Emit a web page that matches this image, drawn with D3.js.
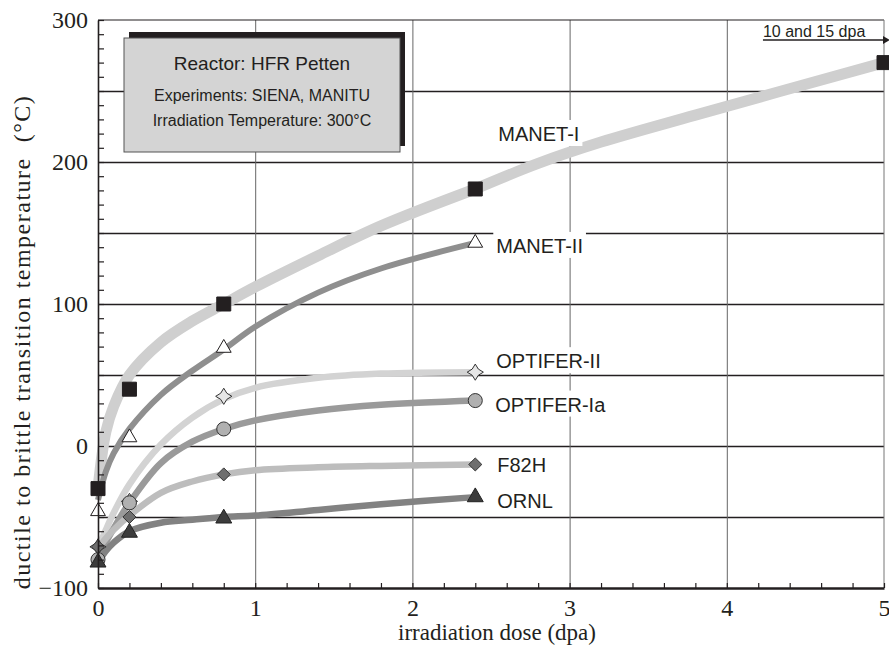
<!DOCTYPE html>
<html>
<head>
<meta charset="utf-8">
<script src="https://cdn.jsdelivr.net/npm/d3@7"></script>
<style>
  body { margin: 0; background: #fff; }
  svg { display: block; }
</style>
</head>
<body>
<svg id="chart" width="889" height="645"></svg>
<script>
// irradiation doses of the tests (dpa) and DBTT values (°C)
const testDoses = [0, 0.2, 0.8, 2.4];
const manetI = [-30, 40, 100, 181];
const manetII = [-46, 6, 69, 143];
const optiferII = [-71, -39, 35, 52];
const optiferIa = [-80, -40, 12, 32];
const f82h = [-71, -50, -20, -13];
const ornl = [-82, -61, -51, -36];
// MANET-I was also run to high dose
const manetIHighDose = [5];
const manetIHighDbtt = [270];

// trend curves
const fitDoses = [0, 0.05, 0.1, 0.2, 0.4, 0.6, 0.8, 1.0, 1.4, 1.8, 2.4];
const manetIFit = [-30, 10, 28, 50, 73, 88, 100, 112, 134, 155, 181];
const manetIIFit = [-38, -18, -5, 12, 36, 53, 68, 84, 108, 125, 143];
const optiferIIFit = [-72, -59, -47, -27, 1, 20, 33, 41, 48, 51, 52];
const optiferIaFit = [-80, -68, -58, -40, -12, 3, 12, 18, 25, 29, 32];
const f82hFit = [-72, -65, -59, -49, -33, -25, -20, -17, -15, -14, -13];
const ornlFit = [-82, -74, -68, -60, -54, -52, -50, -49, -45, -41, -36];
const manetITailDoses = [2.4, 2.8, 3.2, 3.8, 5];
const manetITail = [181, 199, 214, 233, 270];

const seriesNames = ["MANET-I", "MANET-II", "OPTIFER-II", "OPTIFER-Ia", "F82H", "ORNL"];
const xTicks = [0, 1, 2, 3, 4, 5];
const yTicks = [-100, 0, 100, 200, 300];
const xGrid = [1, 2, 3, 4];
const yGrid = [-50, 0, 50, 100, 150, 200, 250];
const boxLines = ["Reactor: HFR Petten", "Experiments: SIENA, MANITU", "Irradiation Temperature: 300°C"];

const margin = {top: 20, right: 5, bottom: 57, left: 98};
const width = 889 - margin.left - margin.right;
const height = 645 - margin.top - margin.bottom;
const serif = '"Liberation Serif", "Times New Roman", serif';
const sans = '"Liberation Sans", Arial, sans-serif';

const x = d3.scaleLinear().domain([0, 5]).range([0, width]);
const y = d3.scaleLinear().domain([-100, 300]).range([height, 0]);

const svg = d3.select("#chart");
const g = svg.append("g").attr("transform", `translate(${margin.left},${margin.top})`);

// 4-pointed star marker
const star4 = {
  draw(ctx, size) {
    const r = Math.sqrt(size) * 0.62, k = r * 0.38;
    ctx.moveTo(0, -r);
    ctx.lineTo(k, -k); ctx.lineTo(r, 0); ctx.lineTo(k, k);
    ctx.lineTo(0, r); ctx.lineTo(-k, k); ctx.lineTo(-r, 0); ctx.lineTo(-k, -k);
    ctx.closePath();
  }
};
// square standing on a corner
const diamond = {
  draw(ctx, size) {
    const r = Math.sqrt(size) / Math.SQRT2;
    ctx.moveTo(0, -r); ctx.lineTo(r, 0); ctx.lineTo(0, r); ctx.lineTo(-r, 0);
    ctx.closePath();
  }
};

const series = [
  {values: manetI, fit: manetIFit, line: "#cfcfcf", lw: 11, sym: d3.symbolSquare, size: 196, fill: "#231f20", stroke: "#231f20", dx: 23, dy: -48},
  {values: manetII, fit: manetIIFit, line: "#8f8f8f", lw: 6, sym: d3.symbolTriangle, size: 95, fill: "#fff", stroke: "#231f20", dx: 21, dy: 10},
  {values: optiferII, fit: optiferIIFit, line: "#d3d3d3", lw: 6.5, sym: star4, size: 170, fill: "#e6e6e6", stroke: "#333", dx: 21, dy: -4},
  {values: optiferIa, fit: optiferIaFit, line: "#9a9a9a", lw: 6.5, sym: d3.symbolCircle, size: 155, fill: "#b0b0b0", stroke: "#333", dx: 20, dy: 11},
  {values: f82h, fit: f82hFit, line: "#bdbdbd", lw: 6.5, sym: diamond, size: 85, fill: "#6e6e6e", stroke: "#333", dx: 22, dy: 8},
  {values: ornl, fit: ornlFit, line: "#828282", lw: 6.5, sym: d3.symbolTriangle, size: 110, fill: "#3c3c3c", stroke: "#222", dx: 22, dy: 11}
];

// gridlines
g.append("g")
  .call(d3.axisLeft(y).tickValues(yGrid).tickSize(-width).tickFormat(""))
  .call(a => a.select(".domain").remove())
  .call(a => a.selectAll("line").attr("stroke", "#231f20").attr("stroke-width", 1.4));
g.append("g")
  .attr("transform", `translate(0,${height})`)
  .call(d3.axisBottom(x).tickValues(xGrid).tickSize(-height).tickFormat(""))
  .call(a => a.select(".domain").remove())
  .call(a => a.selectAll("line").attr("stroke", "#666").attr("stroke-width", 1));

// frame: top and right
g.append("line").attr("x1", 0).attr("x2", width).attr("y1", 0).attr("y2", 0)
  .attr("stroke", "#231f20").attr("stroke-width", 1.2);
g.append("line").attr("x1", width).attr("x2", width).attr("y1", 0).attr("y2", height)
  .attr("stroke", "#777").attr("stroke-width", 1);

// info box with drop shadow
const box = {x: 26, y: 18, w: 276, h: 114};
g.append("rect").attr("x", box.x + 5).attr("y", box.y - 6).attr("width", box.w).attr("height", box.h)
  .attr("fill", "#231f20");
g.append("rect").attr("x", box.x).attr("y", box.y).attr("width", box.w).attr("height", box.h)
  .attr("fill", "#d4d4d4").attr("stroke", "#555").attr("stroke-width", 1);
g.append("g").selectAll("text").data(boxLines).join("text")
  .attr("x", box.x + box.w / 2)
  .attr("y", (d, i) => [50, 81, 106][i])
  .attr("text-anchor", "middle")
  .attr("font-family", sans)
  .attr("font-size", (d, i) => i === 0 ? 19 : 16)
  .attr("fill", "#231f20")
  .text(d => d);

// trend curves
const line = d3.line()
  .x(d => x(d[0]))
  .y(d => y(d[1]))
  .curve(d3.curveCatmullRom.alpha(0.5));

g.append("path")
  .datum(d3.zip(manetITailDoses, manetITail))
  .attr("d", line)
  .attr("fill", "none").attr("stroke", series[0].line).attr("stroke-width", series[0].lw);

g.selectAll(".fit").data(series).join("path")
  .attr("class", "fit")
  .attr("d", s => line(d3.zip(fitDoses, s.fit)))
  .attr("fill", "none")
  .attr("stroke", s => s.line)
  .attr("stroke-width", s => s.lw)
  .attr("stroke-linecap", "butt");

// series labels with white background
const labels = g.selectAll(".lbl").data(series).join("g").attr("class", "lbl");
labels.append("text")
  .attr("x", s => x(testDoses[3]) + s.dx)
  .attr("y", s => y(s.values[3]) + s.dy)
  .attr("font-family", sans)
  .attr("font-size", 20)
  .attr("fill", "#231f20")
  .text((s, i) => seriesNames[i]);
labels.each(function () {
  const t = d3.select(this).select("text");
  const b = t.node().getBBox();
  d3.select(this).insert("rect", "text")
    .attr("x", b.x - 3).attr("y", b.y - 3)
    .attr("width", b.width + 6).attr("height", b.height + 4)
    .attr("fill", "#fff");
});

// markers
series.forEach(s => {
  const pts = d3.zip(testDoses, s.values);
  if (s === series[0]) pts.push(...d3.zip(manetIHighDose, manetIHighDbtt));
  g.append("g").selectAll("path").data(pts).join("path")
    .attr("transform", d => `translate(${x(d[0])},${y(d[1])})`)
    .attr("d", d3.symbol().type(s.sym).size(s.size))
    .attr("fill", s.fill)
    .attr("stroke", s.stroke)
    .attr("stroke-width", 1);
});

// "10 and 15 dpa" arrow
const arrowY = 20;
g.append("line")
  .attr("x1", x(4.23)).attr("x2", width + 1)
  .attr("y1", arrowY).attr("y2", arrowY)
  .attr("stroke", "#231f20").attr("stroke-width", 1.5);
g.append("path")
  .attr("d", `M${width - 1},${arrowY - 4}L${width + 6},${arrowY}L${width - 1},${arrowY + 4}Z`)
  .attr("fill", "#231f20");
g.append("text")
  .attr("x", x(4.23)).attr("y", arrowY - 3)
  .attr("font-family", sans).attr("font-size", 16).attr("fill", "#231f20")
  .text("10 and 15 dpa");

// axes
const yAxis = g.append("g")
  .call(d3.axisLeft(y).tickValues(yTicks).tickSize(0).tickPadding(10));
yAxis.select(".domain").attr("stroke", "#231f20").attr("stroke-width", 1.6);
yAxis.selectAll("text").attr("font-family", serif).attr("font-size", 24).attr("fill", "#231f20");

g.append("g")
  .call(d3.axisRight(y).ticks(40).tickSize(6).tickFormat(""))
  .call(a => a.select(".domain").remove())
  .call(a => a.selectAll("line").attr("stroke", "#231f20").attr("stroke-width", 1.2));

const xAxis = g.append("g")
  .attr("transform", `translate(0,${height})`)
  .call(d3.axisBottom(x).tickValues(xTicks).tickFormat(d3.format("d")).tickSize(0).tickPadding(11));
xAxis.select(".domain").attr("stroke", "#231f20").attr("stroke-width", 2.5);
xAxis.selectAll("text").attr("font-family", serif).attr("font-size", 24).attr("fill", "#231f20");

g.append("g")
  .attr("transform", `translate(0,${height})`)
  .call(d3.axisTop(x).tickValues(d3.range(0, 5.01, 0.2)).tickSize(5).tickFormat(""))
  .call(a => a.select(".domain").remove())
  .call(a => a.selectAll("line").attr("stroke", "#231f20").attr("stroke-width", 1.2));

// axis titles
svg.append("text")
  .attr("x", 497).attr("y", 640)
  .attr("text-anchor", "middle")
  .attr("font-family", serif).attr("font-size", 23).attr("fill", "#231f20")
  .text("irradiation dose (dpa)");
svg.append("text")
  .attr("transform", `translate(30,342) rotate(-90)`)
  .attr("text-anchor", "middle")
  .attr("font-family", serif).attr("font-size", 24).attr("fill", "#231f20")
  .attr("letter-spacing", 1.5)
  .attr("xml:space", "preserve")
  .text("ductile to brittle transition temperature  (°C)");
</script>
</body>
</html>
